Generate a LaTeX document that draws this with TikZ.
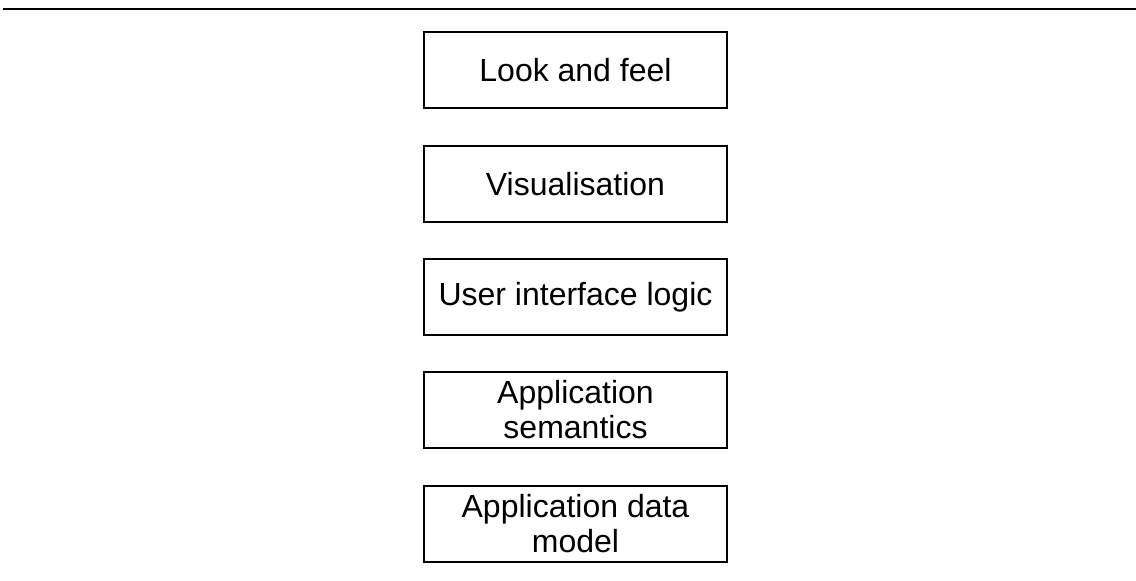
\documentclass[tikz,border=0pt]{standalone}
\usepackage{fontspec}
\setmainfont{Liberation Sans}
\begin{document}
\begin{tikzpicture}[x=1pt,y=-1pt,
  layer/.style={draw, line width=1.6pt, minimum width=303pt, minimum height=76pt,
    inner sep=0pt, align=center, font=\fontsize{32}{35}\selectfont}]
\useasboundingbox (0,0) rectangle (1136,581);
\coordinate (ruleL) at (3,9);
\coordinate (ruleR) at (1136,9);
\draw[line width=2.4pt] (ruleL) -- (ruleR);
\node[layer] (look) at (575.5,70) {Look and feel};
\node[layer] (vis) at (575.5,184) {Visualisation};
\node[layer] (uil) at (575.5,297) {User interface logic};
\node[layer] (sem) at (575.5,410) {Application\\semantics};
\node[layer] (data) at (575.5,524) {Application data\\model};
\end{tikzpicture}
\end{document}
